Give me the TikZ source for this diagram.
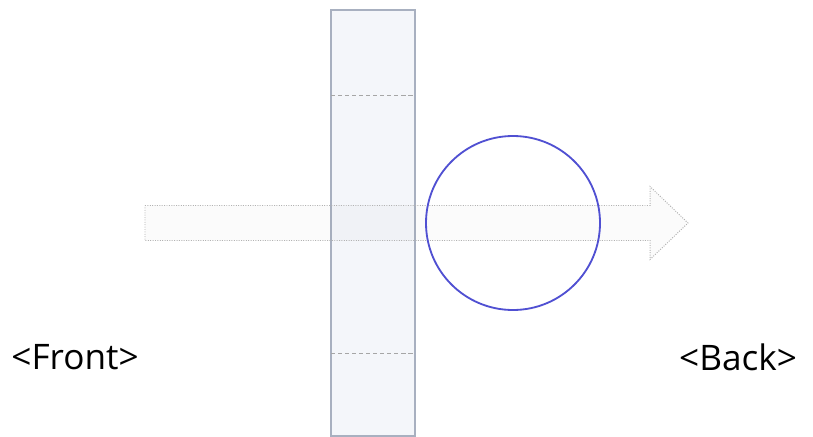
\documentclass[tikz,border=0pt]{standalone}
\usepackage{fontspec}
\setmainfont{Open Sans}
\usepackage{tikz}
\usetikzlibrary{positioning,calc}
\definecolor{plateedge}{RGB}{168,176,192}
\definecolor{platefill}{RGB}{244,246,250}
\definecolor{ballblue}{RGB}{80,80,210}

\begin{document}
\begin{tikzpicture}[
    plate/.style={draw=plateedge, fill=platefill, line width=1pt},
    divider/.style={draw=gray!70, densely dashed, line width=0.6pt},
    beam/.style={draw=gray!60, densely dotted, fill=gray, fill opacity=0.03, line width=0.7pt},
    ball/.style={draw=ballblue, line width=1.3pt, circle, minimum size=4.35cm, inner sep=0pt},
    side/.style={font=\fontsize{25}{30}\selectfont, inner sep=0pt}
]
    \useasboundingbox (0,0) rectangle (20.325,10.9);

    % Plate
    \path[plate] (8.275,0) rectangle (10.375,10.65);
    \draw[divider] (8.275,8.525) -- (10.375,8.525);
    \draw[divider] (8.275,2.075) -- (10.375,2.075);

    % Beam
    \path[beam] (3.625,5.7625) -- (16.25,5.7625) -- (16.25,6.2375)
        -- (17.2,5.325) -- (16.25,4.4125) -- (16.25,4.8875)
        -- (3.625,4.8875) -- cycle;

    % Ball
    \node[ball] (ball) at (12.825,5.325) {};

    % Labels
    \node[side] (front) at (1.875,1.975) {<Front>};
    \node[side] (back) at (18.45,1.975) {<Back>};
\end{tikzpicture}
\end{document}
